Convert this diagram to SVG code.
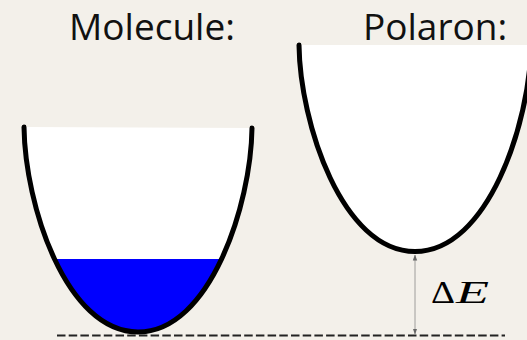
<svg xmlns="http://www.w3.org/2000/svg" width="527" height="340" viewBox="0 0 527 340">
<style>
.title{font-family:"Open Sans","Noto Sans",sans-serif;font-size:37px;fill:#111}
.well{fill:#fff;stroke:none}
.curve{fill:none;stroke:#000;stroke-width:5;stroke-linecap:round}
.math{font-family:"Liberation Serif",serif;font-size:31px;fill:#000}
</style>
<defs>
<marker id="ah" viewBox="0 0 6 6" refX="5.5" refY="3" markerWidth="6" markerHeight="6" orient="auto-start-reverse" markerUnits="userSpaceOnUse">
<path d="M0,0.8 L6,3 L0,5.2 Z" fill="#666"/>
</marker>
<clipPath id="molclip">
<path d="M24,127 C25,205 66,332 138,332 C210,332 251,205 252,128 Z"/>
</clipPath>
</defs>
<rect width="527" height="340" fill="#f3f0ea"/>
<g id="molecule">
<path class="well" d="M24,127 C25,205 66,332 138,332 C210,332 251,205 252,128 Z"/>
<rect x="0" y="259" width="280" height="90" fill="#0000ff" clip-path="url(#molclip)"/>
<path class="curve" d="M24,127 C25,205 66,332 138,332 C210,332 251,205 252,128"/>
<text class="title" x="69" y="40">Molecule:</text>
</g>
<g id="polaron">
<path class="well" d="M299,45 C300,123 342,251.5 415,251.5 C488,251.5 530,123 531,45 Z"/>
<path class="curve" d="M299,45 C300,123 342,251.5 415,251.5 C488,251.5 530,123 531,45"/>
<text class="title" x="363" y="40">Polaron:</text>
</g>
<g id="connectors">
<line x1="57" y1="335.5" x2="505" y2="335.5" stroke="#222" stroke-width="1.8" stroke-dasharray="8.5 3.2"/>
<line x1="415" y1="255" x2="415" y2="334" stroke="#888" stroke-width="0.8" marker-start="url(#ah)" marker-end="url(#ah)"/>
</g>
<g id="deltaE">
<text class="math" x="431" y="303" textLength="24" lengthAdjust="spacingAndGlyphs">Δ</text>
<text class="math" x="456" y="303" font-style="italic" textLength="33" lengthAdjust="spacingAndGlyphs">E</text>
</g>
</svg>
